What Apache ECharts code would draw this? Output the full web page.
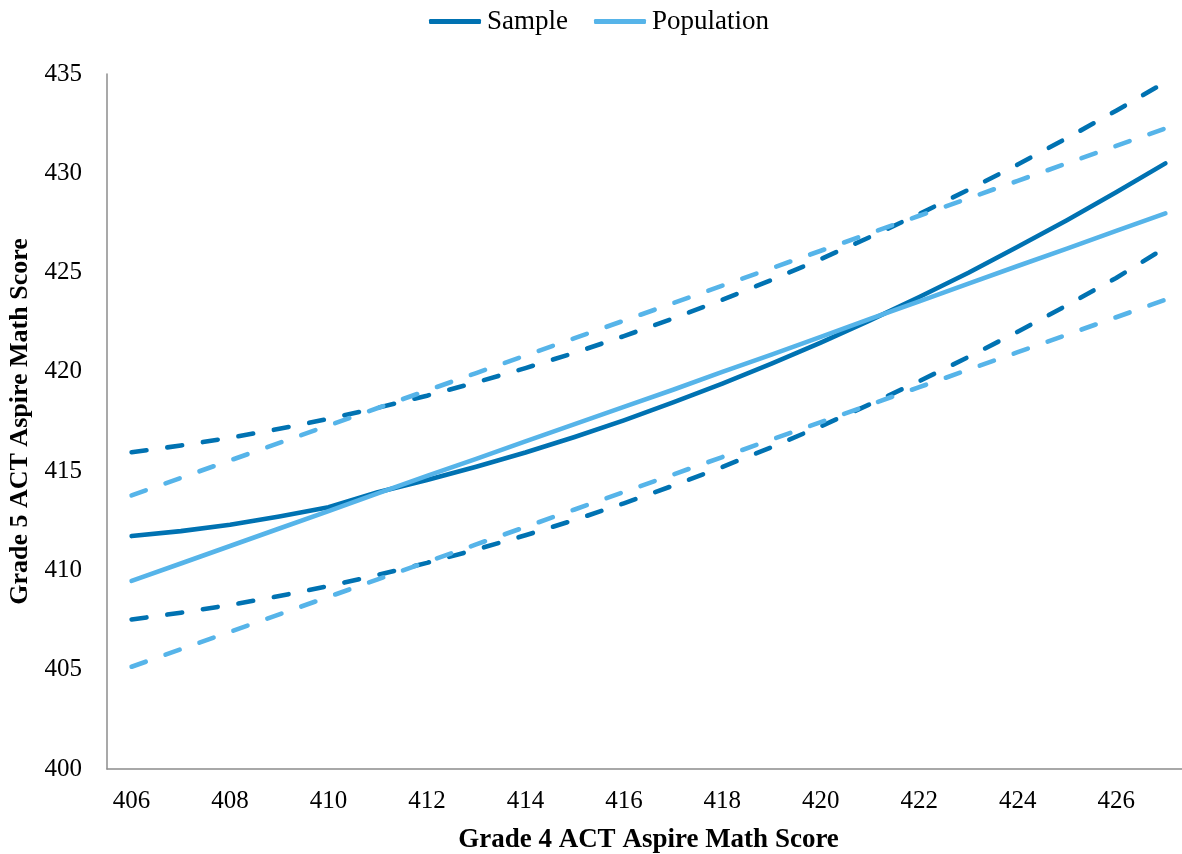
<!DOCTYPE html>
<html>
<head>
<meta charset="utf-8">
<title>Grade 4 vs Grade 5 ACT Aspire Math Score</title>
<script src="https://cdn.jsdelivr.net/npm/echarts@6/dist/echarts.min.js"></script>
<style>
  html, body { margin: 0; padding: 0; background: #ffffff; }
  #chart { width: 1182px; height: 854px; }
</style>
</head>
<body>
<div id="chart"></div>
<script>
// Grade 4 scores along the x axis
const grade4Scores = [406, 407, 408, 409, 410, 411, 412, 413, 414, 415, 416,
                      417, 418, 419, 420, 421, 422, 423, 424, 425, 426, 427];

// Predicted Grade 5 score, sample fit
const samplePred = [411.73, 411.98, 412.30, 412.72, 413.18, 413.94, 414.55, 415.22, 415.94, 416.72, 417.56,
                    418.46, 419.41, 420.41, 421.47, 422.59, 423.77, 424.99, 426.30, 427.64, 429.04, 430.50];
// Sample confidence band
const sampleUpper = [415.95, 416.29, 416.68, 417.13, 417.63, 418.19, 418.80, 419.47, 420.19, 420.96, 421.80,
                     422.69, 423.63, 424.63, 425.68, 426.79, 427.95, 429.17, 430.44, 431.77, 433.15, 434.59];
const sampleLower = [407.53, 407.87, 408.26, 408.71, 409.21, 409.77, 410.38, 411.05, 411.77, 412.54, 413.38,
                     414.27, 415.21, 416.21, 417.26, 418.37, 419.53, 420.75, 422.02, 423.35, 424.73, 426.25];

// Predicted Grade 5 score, population fit
const populationPred = [409.47, 410.35, 411.23, 412.11, 412.99, 413.88, 414.76, 415.62, 416.50, 417.37, 418.24,
                        419.10, 420.00, 420.87, 421.76, 422.67, 423.55, 424.44, 425.33, 426.21, 427.10, 427.98];
// Population confidence band
const populationUpper = [413.78, 414.66, 415.54, 416.42, 417.30, 418.18, 419.06, 419.94, 420.82, 421.70, 422.58,
                         423.46, 424.34, 425.22, 426.10, 426.98, 427.86, 428.74, 429.62, 430.50, 431.38, 432.26];
const populationLower = [405.15, 406.03, 406.91, 407.79, 408.67, 409.55, 410.43, 411.31, 412.19, 413.07, 413.95,
                         414.83, 415.71, 416.59, 417.47, 418.35, 419.23, 420.11, 420.99, 421.87, 422.75, 423.63];

const yTicks = { min: 400, max: 435, step: 5 };

const SAMPLE_COLOR = '#0072B2';
const POP_COLOR = '#56B4E9';
const SERIF = "'Liberation Serif', 'Times New Roman', serif";
const LINE_W = 4.6;

function solid(name, data, color) {
  return {
    name, type: 'line', data, symbol: 'none', smooth: false,
    lineStyle: { color, width: LINE_W, cap: 'round', join: 'round' },
    itemStyle: { color },
    emphasis: { disabled: true }
  };
}
function dashed(name, data, color) {
  return {
    name, type: 'line', data, symbol: 'none', smooth: false,
    lineStyle: { color, width: LINE_W, type: [15, 21], cap: 'round', join: 'round' },
    itemStyle: { color },
    emphasis: { disabled: true }
  };
}

const chart = echarts.init(document.getElementById('chart'), null, { renderer: 'canvas' });
chart.setOption({
  backgroundColor: '#ffffff',
  animation: false,
  textStyle: { fontFamily: SERIF, color: '#000' },
  legend: {
    data: ['Sample', 'Population'],
    top: 3,
    left: 424,
    icon: 'roundRect',
    itemWidth: 52,
    itemHeight: 5,
    itemGap: 26,
    textStyle: { fontFamily: SERIF, fontSize: 27, color: '#000', padding: [0, 0, 0, 1] }
  },
  grid: { left: 107, right: -8, top: 74, bottom: 85, containLabel: false, outerBoundsMode: 'none' },
  xAxis: {
    type: 'category',
    data: grade4Scores,
    boundaryGap: true,
    name: 'Grade 4 ACT Aspire Math Score',
    nameLocation: 'middle',
    nameGap: 58,
    nameTextStyle: { fontFamily: SERIF, fontSize: 27, fontWeight: 'bold', color: '#000' },
    axisLine: { lineStyle: { color: '#8c8c8c', width: 1.5 } },
    axisTick: { show: false },
    axisLabel: { interval: 1, margin: 20, fontFamily: SERIF, fontSize: 25, color: '#000' },
    splitLine: { show: false }
  },
  yAxis: {
    type: 'value',
    min: yTicks.min,
    max: yTicks.max,
    interval: yTicks.step,
    name: 'Grade 5 ACT Aspire Math Score',
    nameLocation: 'middle',
    nameGap: 71,
    nameTextStyle: { fontFamily: SERIF, fontSize: 26, fontWeight: 'bold', color: '#000' },
    axisLine: { show: true, lineStyle: { color: '#8c8c8c', width: 1.5 } },
    axisTick: { show: false },
    axisLabel: { margin: 25, fontFamily: SERIF, fontSize: 25, color: '#000' },
    splitLine: { show: false }
  },
  series: [
    dashed('Sample upper', sampleUpper, SAMPLE_COLOR),
    dashed('Sample lower', sampleLower, SAMPLE_COLOR),
    dashed('Population upper', populationUpper, POP_COLOR),
    dashed('Population lower', populationLower, POP_COLOR),
    solid('Sample', samplePred, SAMPLE_COLOR),
    solid('Population', populationPred, POP_COLOR)
  ]
});
</script>
</body>
</html>
